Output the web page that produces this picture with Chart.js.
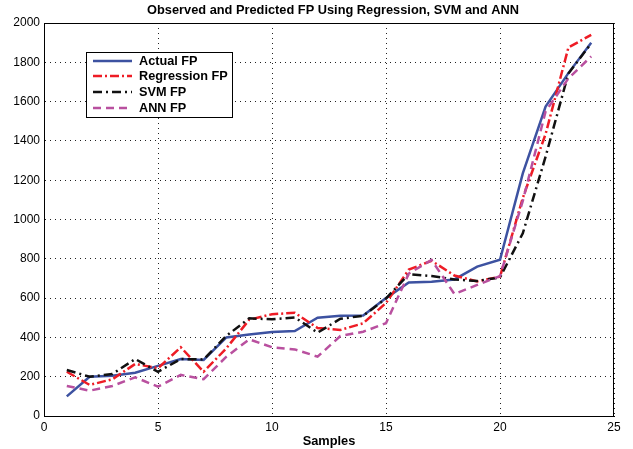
<!DOCTYPE html>
<html>
<head>
<meta charset="utf-8">
<script src="https://cdn.jsdelivr.net/npm/chart.js@4/dist/chart.umd.min.js"></script>
<style>
  html, body { margin: 0; padding: 0; background: #fff; }
  #wrap { width: 633px; height: 449px; }
</style>
</head>
<body>
<div id="wrap"><canvas id="grafico" width="633" height="449"></canvas></div>
<script>
// dados
const samples = [1, 2, 3, 4, 5, 6, 7, 8, 9, 10, 11, 12, 13, 14, 15, 16, 17, 18, 19, 20, 21, 22, 23, 24];
const actualFP = [100, 200, 205, 220, 255, 290, 285, 400, 415, 428, 432, 500, 510, 512, 600, 680, 683, 695, 760, 795, 1235, 1575, 1745, 1900];
const regressionFP = [225, 158, 187, 265, 243, 350, 225, 345, 490, 518, 525, 448, 438, 472, 575, 745, 790, 715, 685, 709, 1110, 1435, 1875, 1940];
const svmFP = [234, 200, 214, 290, 225, 290, 288, 408, 497, 492, 502, 424, 495, 510, 598, 722, 712, 695, 687, 705, 930, 1320, 1743, 1896];
const annFP = [153, 129, 153, 197, 149, 209, 187, 302, 390, 350, 339, 302, 407, 429, 472, 725, 794, 621, 667, 712, 1095, 1550, 1718, 1830];

const xTicks = [0, 5, 10, 15, 20, 25];
const yTicks = [0, 200, 400, 600, 800, 1000, 1200, 1400, 1600, 1800, 2000];

const fonte = "'Liberation Sans', Arial, sans-serif";

function serie(label, data, cor, dash, order) {
  return {
    label: label,
    data: samples.map((s, i) => ({ x: s, y: data[i] })),
    borderColor: cor,
    backgroundColor: cor,
    borderWidth: 2.5,
    borderDash: dash,
    pointRadius: 0,
    tension: 0,
    fill: false,
    order: order,
  };
}

// titulo, moldura e legenda desenhados a mao (estilo matlab)
const estiloMatlab = {
  id: "estiloMatlab",
  afterDraw(chart) {
    const ctx = chart.ctx;
    const a = chart.chartArea;
    ctx.save();
    ctx.strokeStyle = "#000";
    ctx.lineWidth = 1;
    ctx.setLineDash([]);
    ctx.strokeRect(a.left + 0.5, a.top + 0.5, a.right - a.left - 1, a.bottom - a.top);

    ctx.fillStyle = "#000";
    ctx.font = "bold 12.8px " + fonte;
    ctx.textAlign = "center";
    ctx.textBaseline = "middle";
    ctx.fillText("Observed and Predicted FP Using Regression, SVM and ANN", 333, 10);

    // legenda
    const bx = 86, by = 52, bw = 146, bh = 65;
    ctx.fillStyle = "#fff";
    ctx.fillRect(bx, by, bw, bh);
    ctx.strokeRect(bx + 0.5, by + 0.5, bw, bh);
    const ys = [61, 76, 92, 108];
    chart.data.datasets.forEach((ds, k) => {
      ctx.strokeStyle = ds.borderColor;
      ctx.lineWidth = ds.borderWidth;
      ctx.setLineDash(ds.borderDash || []);
      ctx.beginPath();
      ctx.moveTo(93, ys[k]);
      ctx.lineTo(132, ys[k]);
      ctx.stroke();
      ctx.setLineDash([]);
      ctx.fillStyle = "#000";
      ctx.font = "bold 12.7px " + fonte;
      ctx.textAlign = "left";
      ctx.fillText(ds.label, 139, ys[k]);
    });
    ctx.restore();
  },
};

const ctxGrafico = document.getElementById("grafico").getContext("2d");

new Chart(ctxGrafico, {
  type: "line",
  data: {
    datasets: [
      serie("Actual FP", actualFP, "#3d52a1", [], 3),
      serie("Regression FP", regressionFP, "#ee1c25", [9, 3, 2, 3], 2),
      serie("SVM FP", svmFP, "#111111", [9, 4, 2, 4], 1),
      serie("ANN FP", annFP, "#b9509f", [8, 5], 0),
    ],
  },
  options: {
    responsive: false,
    animation: false,
    layout: {
      padding: { left: 0, right: 19, top: 23, bottom: 0 },
    },
    plugins: {
      legend: { display: false },
      title: { display: false },
      tooltip: { enabled: false },
    },
    scales: {
      x: {
        type: "linear",
        min: 0,
        max: 25,
        afterBuildTicks: (scale) => {
          scale.ticks = xTicks.map((v) => ({ value: v }));
        },
        afterFit: (scale) => {
          scale.height = 33;
        },
        ticks: {
          color: "#000",
          font: { family: fonte, size: 12 },
          padding: 4,
          maxRotation: 0,
          callback: (v) => String(v),
        },
        grid: {
          color: "#222",
          lineWidth: 1,
          drawTicks: false,
        },
        border: { color: "#000", width: 1, dash: [1, 4] },
        title: {
          display: true,
          text: "Samples",
          color: "#000",
          font: { family: fonte, size: 12.8, weight: "bold" },
          padding: { top: 0, bottom: 0 },
        },
      },
      y: {
        type: "linear",
        min: 0,
        max: 2000,
        afterBuildTicks: (scale) => {
          scale.ticks = yTicks.map((v) => ({ value: v }));
        },
        afterFit: (scale) => {
          scale.width = 44;
        },
        ticks: {
          color: "#000",
          font: { family: fonte, size: 12 },
          padding: 4,
          callback: (v) => String(v),
        },
        grid: {
          color: "#222",
          lineWidth: 1,
          drawTicks: false,
        },
        border: { color: "#000", width: 1, dash: [1, 4] },
      },
    },
  },
  plugins: [estiloMatlab],
});
</script>
</body>
</html>
